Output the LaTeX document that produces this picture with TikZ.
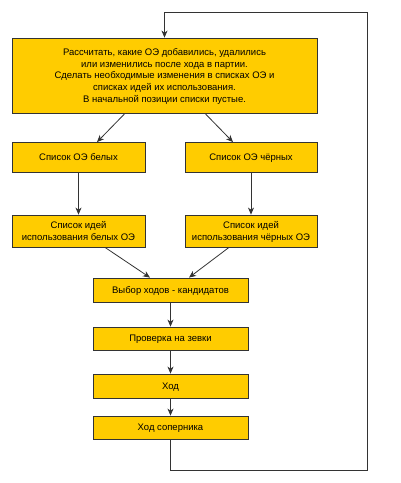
\documentclass[tikz,border=0pt]{standalone}
\usepackage{fontspec}
\setmainfont{Liberation Sans}
\usetikzlibrary{arrows.meta}
\definecolor{ocher}{HTML}{FFCC00}
\definecolor{edge}{HTML}{333333}

\tikzset{
  blk/.style={draw=edge, fill=ocher, line width=0.8pt, inner sep=0pt, align=center,
    text depth=0pt, font=\fontsize{9.5}{11.7}\selectfont},
  arr/.style={-{Stealth[length=7pt,width=6pt,inset=2pt]}, line width=0.8pt, draw=edge},
}

\begin{document}
\begin{tikzpicture}[x=1pt,y=1pt,yscale=-1,xscale=1]
  \useasboundingbox (0,0) rectangle (400,483);
  \node [blk, minimum width=305, minimum height=75] (calc) at (164.5,75.5) {Рассчитать, какие ОЭ добавились, удалились\\или изменились после хода в партии.\\Сделать необходимые изменения в списках ОЭ и\\списках идей их использования.\\В начальной позиции списки пустые.};
  \node [blk, minimum width=133, minimum height=30] (white) at (78.5,157.5) {Список ОЭ белых};
  \node [blk, minimum width=132, minimum height=30] (black) at (251,157.5) {Список ОЭ чёрных};
  \node [blk, minimum width=133, minimum height=32] (ideaW) at (78.5,231) {Список идей\\использования белых ОЭ};
  \node [blk, minimum width=132, minimum height=32] (ideaB) at (251,231) {Список идей\\использования чёрных ОЭ};
  \node [blk, minimum width=155, minimum height=24] (cand) at (170.5,290) {Выбор ходов - кандидатов};
  \node [blk, minimum width=155, minimum height=23] (check) at (170.5,338.5) {Проверка на зевки};
  \node [blk, minimum width=155, minimum height=24] (move) at (170.5,386) {Ход};
  \node [blk, minimum width=155, minimum height=23] (reply) at (170.5,427.5) {Ход соперника};
  \coordinate (loopB) at (367,470);
  \coordinate (loopT) at (367,12);

  \draw [arr] ([xshift=-39.5]calc.south) -- ([xshift=18.5]white.north);
  \draw [arr] ([xshift=40.5]calc.south) -- ([xshift=-18]black.north);
  \draw [arr] (white) -- (ideaW);
  \draw [arr] (black) -- (ideaB);
  \draw [arr] ([xshift=26.5]ideaW.south) -- ([xshift=-20.5]cand.north);
  \draw [arr] ([xshift=-22]ideaB.south) -- ([xshift=18.5]cand.north);
  \draw [arr] (cand) -- (check);
  \draw [arr] (check) -- (move);
  \draw [arr] (move) -- (reply);
  \draw [arr] (reply.south) |- (loopB) -- (loopT) -| (calc.north);
\end{tikzpicture}
\end{document}
